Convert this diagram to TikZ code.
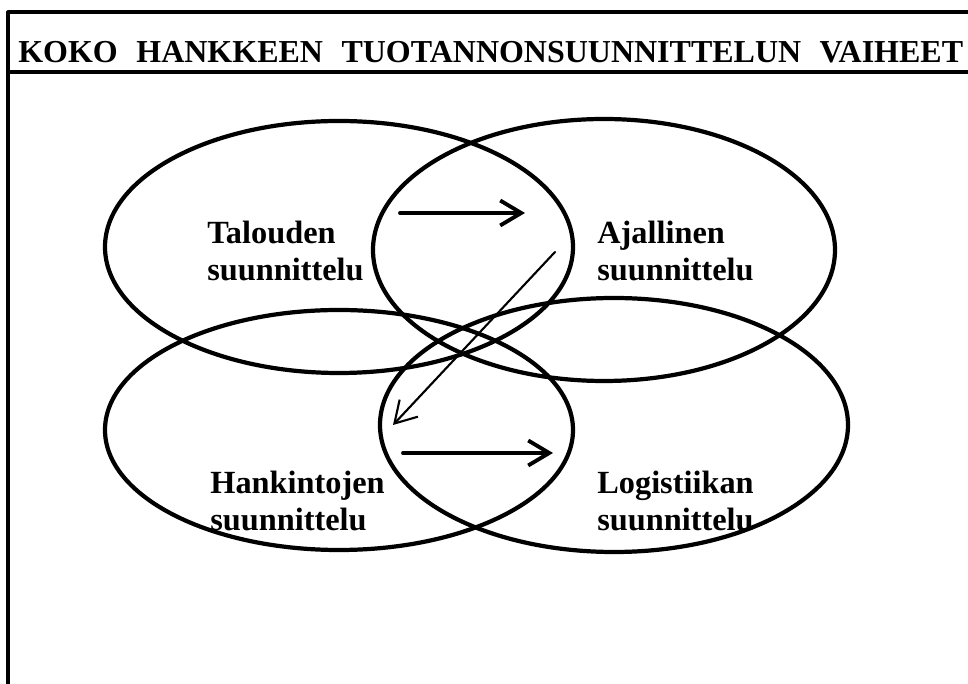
\documentclass[tikz,border=0pt]{standalone}
\usepackage{fontspec}
\setmainfont{Liberation Serif}
\usetikzlibrary{positioning, arrows.meta, shapes.geometric}
\definecolor{figink}{HTML}{000000}

\begin{document}
\begin{tikzpicture}[
  x=1cm, y=1cm,
  line cap=round, line join=round,
  frame/.style = {draw=figink, line width=1.8pt, line cap=butt},
  ring/.style  = {draw=figink, line width=2.4pt, ellipse, inner sep=0pt},
  flow/.style  = {draw=figink, line width=2.2pt,
                  -{Straight Barb[length=0.42cm, width=0.5cm]}},
  back/.style  = {draw=figink, line width=1.2pt,
                  -{Straight Barb[length=0.42cm, width=0.5cm]}},
  lbl/.style   = {font=\fontsize{18.4pt}{21pt}\selectfont\bfseries,
                  align=left, inner sep=0pt, anchor=north west},
  ttl/.style   = {font=\fontsize{18.2pt}{21pt}\selectfont\bfseries,
                  inner sep=0pt, anchor=base west}
]
\useasboundingbox (0,0) rectangle (19.36,13.68);

% kehys ja otsikkorivi
\draw[frame] (0.16,0) -- (0.16,13.44) -- (19.36,13.44);
\draw[frame] (0.16,12.24) -- (19.36,12.24);
\node[ttl] (title) at (0.36,12.42)
  {KOKO\hspace{0.58em}HANKKEEN\hspace{0.58em}TUOTANNONSUUNNITTELUN\hspace{0.58em}VAIHEET};

% neljä ellipsiä
\node[ring, minimum width=9.36cm, minimum height=5.04cm] (tal) at (6.78,8.74) {};
\node[ring, minimum width=9.24cm, minimum height=5.24cm] (aja) at (12.08,8.68) {};
\node[ring, minimum width=9.36cm, minimum height=4.80cm] (han) at (6.78,5.08) {};
\node[ring, minimum width=9.36cm, minimum height=5.08cm] (log) at (12.28,5.18) {};

% tekstit
\node[lbl] (talt) at (4.14,9.26) {Talouden\\suunnittelu};
\node[lbl] (ajat) at (11.94,9.26) {Ajallinen\\suunnittelu};
\node[lbl] (hant) at (4.20,4.26) {Hankintojen\\suunnittelu};
\node[lbl] (logt) at (11.94,4.26) {Logistiikan\\suunnittelu};

% nuolet
\coordinate (p1) at (8.00,9.42);
\coordinate (p2) at (10.50,9.42);
\coordinate (p3) at (11.10,8.64);
\coordinate (p4) at (7.86,5.18);
\coordinate (p5) at (8.06,4.62);
\coordinate (p6) at (11.06,4.62);
\draw[flow] (p1) -- (p2);
\draw[back] (p3) -- (p4);
\draw[flow] (p5) -- (p6);

\end{tikzpicture}
\end{document}
